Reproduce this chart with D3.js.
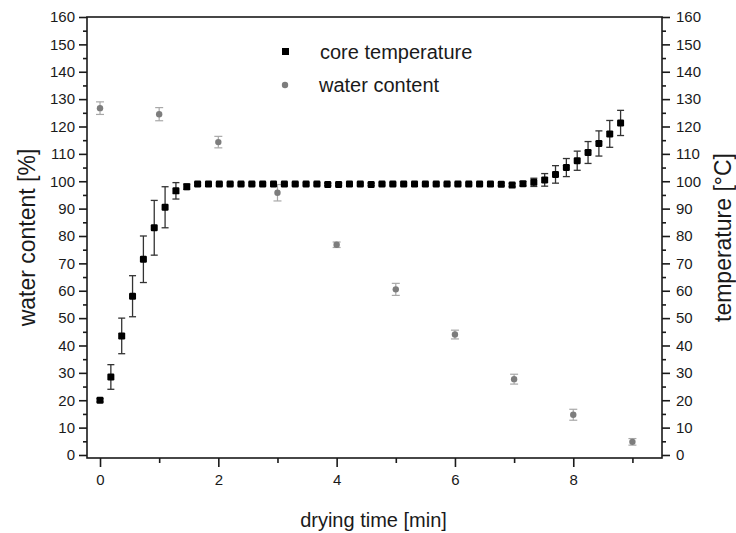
<!DOCTYPE html>
<html>
<head>
<meta charset="utf-8">
<script src="https://cdn.jsdelivr.net/npm/d3@7/dist/d3.min.js"></script>
<style>
  html, body { margin: 0; padding: 0; background: #fff; }
  svg { display: block; font-family: "Liberation Sans", Arial, sans-serif; }
</style>
</head>
<body>
<svg id="chart" width="736" height="533"></svg>
<script>
// ---- data ----
const tempStep = 11 / 60; // minutes between core temperature readings
const tempValues = [20, 28.5, 43.5, 58, 71.5, 83, 90.5, 96.5, 98, 99,
  99, 99, 99, 99, 99, 99, 99, 99, 99, 99,
  99, 98.8, 98.8, 99, 99, 98.8, 99, 99, 99, 99,
  99, 99, 99, 99, 99, 99, 99, 98.9, 98.6, 99.1,
  99.6, 100.5, 102.5, 105, 107.5, 110.5, 113.8, 117.3, 121.3];
const tempErrors = [0.6, 4.5, 6.5, 7.5, 8.5, 10, 7.5, 3, 1, 0.5,
  0.4, 0.4, 0.4, 0.4, 0.4, 0.4, 0.4, 0.4, 0.4, 0.4,
  0.4, 0.4, 0.4, 0.4, 0.4, 0.4, 0.4, 0.4, 0.4, 0.4,
  0.4, 0.4, 0.4, 0.4, 0.4, 0.4, 0.4, 0.5, 0.6, 0.8,
  1.5, 2.3, 3.2, 3.3, 3.5, 4, 4.6, 4.9, 4.6];
const waterTimes = [0, 1, 2, 3, 4, 5, 6, 7, 8, 9];
const waterValues = [126.7, 124.5, 114.3, 95.8, 76.8, 60.5, 44, 27.7, 14.7, 4.8];
const waterErrors = [2.3, 2.4, 2.1, 3, 1, 2.2, 1.6, 1.8, 2, 1.2];
const xTicksMajor = [0, 2, 4, 6, 8];
const xTicksMinor = [1, 3, 5, 7, 9];
const yTicksMajor = [0, 10, 20, 30, 40, 50, 60, 70, 80, 90, 100, 110, 120, 130, 140, 150, 160];
const yTicksMinor = [5, 15, 25, 35, 45, 55, 65, 75, 85, 95, 105, 115, 125, 135, 145, 155];
const legendLabels = ["core temperature", "water content"];
const axisTitles = { x: "drying time [min]", yLeft: "water content [%]", yRight: "temperature [°C]" };

// ---- layout ----
const L = 87, R = 662, T = 17, B = 458;
const ink = "#1a1a1a";
const svg = d3.select("#chart");
const x = d3.scaleLinear().domain([-0.22, 9.5]).range([L, R]);
const y = d3.scaleLinear().domain([-1.1, 160]).range([B, T]);

// frame
svg.append("rect").attr("x", L).attr("y", T).attr("width", R - L).attr("height", B - T)
  .attr("fill", "none").attr("stroke", ink).attr("stroke-width", 1.6);

function styleAxis(g) {
  g.select(".domain").remove();
  g.selectAll("line").attr("stroke", ink).attr("stroke-width", 1.6);
  g.selectAll("text").attr("fill", ink).style("font-size", "15px")
    .style("font-family", '"Liberation Sans", Arial, sans-serif');
}

// bottom axis
svg.append("g").attr("transform", `translate(0,${B})`)
  .call(d3.axisBottom(x).tickValues(xTicksMajor).tickSize(9).tickPadding(7).tickFormat(d3.format("d")))
  .call(styleAxis);
svg.append("g").attr("transform", `translate(0,${B})`)
  .call(d3.axisBottom(x).tickValues(xTicksMinor).tickSize(5).tickFormat(""))
  .call(styleAxis);

// left axis
svg.append("g").attr("transform", `translate(${L},0)`)
  .call(d3.axisLeft(y).tickValues(yTicksMajor).tickSize(8).tickPadding(4).tickFormat(d3.format("d")))
  .call(styleAxis);
svg.append("g").attr("transform", `translate(${L},0)`)
  .call(d3.axisLeft(y).tickValues(yTicksMinor).tickSize(4).tickFormat(""))
  .call(styleAxis);

// right axis
svg.append("g").attr("transform", `translate(${R},0)`)
  .call(d3.axisRight(y).tickValues(yTicksMajor).tickSize(8).tickPadding(6).tickFormat(d3.format("d")))
  .call(styleAxis);
svg.append("g").attr("transform", `translate(${R},0)`)
  .call(d3.axisRight(y).tickValues(yTicksMinor).tickSize(4).tickFormat(""))
  .call(styleAxis);

// axis titles
svg.append("text").attr("x", (L + R) / 2 - 1).attr("y", 527).attr("text-anchor", "middle")
  .attr("fill", ink).style("font-size", "20px").text(axisTitles.x);
svg.append("text").attr("transform", `translate(35,${(T + B) / 2}) rotate(-90)`).attr("text-anchor", "middle")
  .attr("fill", ink).style("font-size", "23px").text(axisTitles.yLeft);
svg.append("text").attr("transform", `translate(731,${(T + B) / 2}) rotate(-90)`).attr("text-anchor", "middle")
  .attr("fill", ink).style("font-size", "23px").text(axisTitles.yRight);

// water content series
const water = waterTimes.map((t, i) => ({ t, v: waterValues[i], e: waterErrors[i] }));
const wg = svg.append("g");
const wCap = 4;
wg.selectAll("line.wbar").data(water).join("line").attr("class", "wbar")
  .attr("x1", d => x(d.t)).attr("x2", d => x(d.t))
  .attr("y1", d => y(d.v - d.e)).attr("y2", d => y(d.v + d.e))
  .attr("stroke", "#a8a8a8").attr("stroke-width", 1.2);
["+", "-"].forEach(s => {
  wg.selectAll("line.wcap" + (s === "+" ? "t" : "b")).data(water).join("line")
    .attr("class", "wcap" + (s === "+" ? "t" : "b"))
    .attr("x1", d => x(d.t) - wCap).attr("x2", d => x(d.t) + wCap)
    .attr("y1", d => y(s === "+" ? d.v + d.e : d.v - d.e))
    .attr("y2", d => y(s === "+" ? d.v + d.e : d.v - d.e))
    .attr("stroke", "#a8a8a8").attr("stroke-width", 1.2);
});
wg.selectAll("circle").data(water).join("circle")
  .attr("cx", d => x(d.t)).attr("cy", d => y(d.v)).attr("r", 3.2).attr("fill", "#7d7d7d");

// core temperature series
const temp = tempValues.map((v, i) => ({ t: i * tempStep, v, e: tempErrors[i] }));
const tg = svg.append("g");
const tCap = 3.5;
tg.selectAll("line.tbar").data(temp).join("line").attr("class", "tbar")
  .attr("x1", d => x(d.t)).attr("x2", d => x(d.t))
  .attr("y1", d => y(d.v - d.e)).attr("y2", d => y(d.v + d.e))
  .attr("stroke", "#333").attr("stroke-width", 1.3);
["t", "b"].forEach(s => {
  tg.selectAll("line.tcap" + s).data(temp).join("line").attr("class", "tcap" + s)
    .attr("x1", d => x(d.t) - tCap).attr("x2", d => x(d.t) + tCap)
    .attr("y1", d => y(s === "t" ? d.v + d.e : d.v - d.e))
    .attr("y2", d => y(s === "t" ? d.v + d.e : d.v - d.e))
    .attr("stroke", "#333").attr("stroke-width", 1.3);
});
const sq = 7;
tg.selectAll("rect").data(temp).join("rect")
  .attr("x", d => x(d.t) - sq / 2).attr("y", d => y(d.v) - sq / 2)
  .attr("width", sq).attr("height", sq).attr("rx", 1.2).attr("fill", "#000");

// legend
const lg = svg.append("g");
lg.append("rect").attr("x", 282).attr("y", 48).attr("width", 7).attr("height", 7).attr("fill", "#000");
lg.append("text").attr("x", 320).attr("y", 59).attr("fill", ink).style("font-size", "20px").text(legendLabels[0]);
lg.append("circle").attr("cx", 285).attr("cy", 85).attr("r", 3.2).attr("fill", "#7d7d7d");
lg.append("text").attr("x", 319).attr("y", 92).attr("fill", ink).style("font-size", "20px").text(legendLabels[1]);
</script>
</body>
</html>
